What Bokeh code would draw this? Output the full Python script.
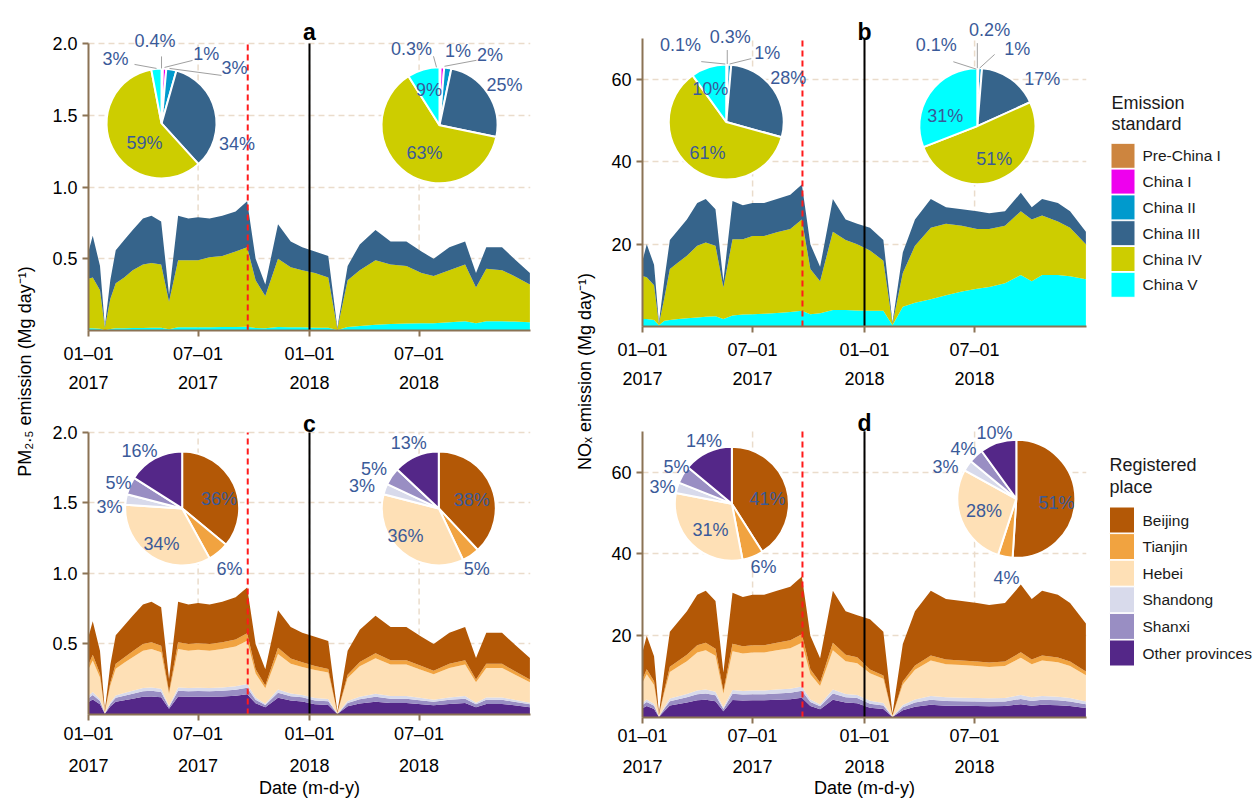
import numpy as np
import pandas as pd
from bokeh.plotting import figure
from bokeh.layouts import row, column
from bokeh.models import ColumnDataSource, Range1d, FixedTicker, LinearAxis
from bokeh.core.properties import value
from bokeh.embed import file_html
from bokeh.resources import INLINE

FONT = "Liberation Sans"
BROWN = "#8B7355"
GRID = "#EADCCB"
PIE_TXT = "#3A5A99"

# ---------------- data ----------------
dates = ["2017-01-01", "2017-01-08", "2017-01-20", "2017-01-28", "2017-02-06", "2017-02-15",
         "2017-03-01", "2017-03-15", "2017-04-01", "2017-04-15", "2017-05-01", "2017-05-14",
         "2017-05-29", "2017-06-15", "2017-07-01", "2017-07-20", "2017-08-10", "2017-09-01",
         "2017-09-20", "2017-10-04", "2017-10-20", "2017-11-10", "2017-12-01", "2017-12-20",
         "2018-01-10", "2018-02-01", "2018-02-16", "2018-03-05", "2018-03-25", "2018-04-20",
         "2018-05-15", "2018-06-10", "2018-07-05", "2018-07-25", "2018-08-20", "2018-09-15",
         "2018-10-03", "2018-10-20", "2018-11-15", "2018-12-05", "2018-12-31"]

# PM2.5 by emission standard (Mg/day)
pm_china_v = [0.015, 0.015, 0.012, 0.002, 0.010, 0.015, 0.015, 0.017, 0.018, 0.020, 0.020, 0.008, 0.022, 0.022,
              0.022, 0.023, 0.024, 0.025, 0.027, 0.018, 0.015, 0.025, 0.022, 0.022, 0.020, 0.020, 0.003, 0.025,
              0.032, 0.040, 0.045, 0.048, 0.050, 0.050, 0.058, 0.065, 0.050, 0.065, 0.065, 0.062, 0.058]
pm_china_iv = [0.345, 0.355, 0.268, 0.018, 0.210, 0.315, 0.355, 0.403, 0.442, 0.450, 0.440, 0.192, 0.468, 0.468,
               0.468, 0.487, 0.496, 0.525, 0.553, 0.332, 0.225, 0.475, 0.418, 0.398, 0.380, 0.350, 0.007, 0.325,
               0.388, 0.450, 0.415, 0.402, 0.350, 0.330, 0.362, 0.395, 0.250, 0.365, 0.355, 0.318, 0.262]
pm_china_iii = [0.19, 0.29, 0.17, 0.01, 0.13, 0.23, 0.26, 0.28, 0.32, 0.33, 0.30, 0.05, 0.31, 0.29,
                0.30, 0.27, 0.28, 0.28, 0.32, 0.15, 0.08, 0.24, 0.18, 0.16, 0.15, 0.15, 0.01, 0.10,
                0.18, 0.21, 0.16, 0.17, 0.15, 0.12, 0.16, 0.16, 0.10, 0.15, 0.16, 0.12, 0.08]

# NOx by emission standard (Mg/day)
nox_china_v = [1.8, 1.8, 1.6, 0.3, 1.4, 1.6, 1.8, 2.0, 2.2, 2.4, 2.5, 1.8, 2.7, 2.9, 3.0, 3.1, 3.3, 3.5, 3.8, 3.0,
               3.2, 4.0, 4.0, 3.9, 3.8, 3.8, 0.3, 4.8, 5.8, 6.6, 7.6, 8.5, 9.2, 9.6, 10.5, 12.5, 11.0, 12.5, 12.5,
               12.2, 11.5]
nox_china_iv = [10.5, 10.2, 8.4, 0.3, 5.6, 12.4, 13.8, 15.2, 17.4, 18.0, 17.1, 7.7, 18.5, 18.3, 19.0, 18.9, 19.6,
                20.2, 22.2, 11.0, 7.8, 19.0, 17.0, 16.1, 14.7, 12.2, 0.3, 8.2, 13.8, 17.4, 17.4, 16.0, 14.5, 14.1,
                14.0, 15.5, 15.0, 14.5, 13.0, 11.8, 8.5]
nox_china_iii = [3.7, 8.0, 5.0, 0.4, 4.5, 7.0, 7.9, 8.8, 10.4, 10.6, 8.9, 1.5, 9.3, 8.3, 8.0, 8.0, 8.1, 8.3, 8.5,
                 6.0, 3.5, 8.0, 5.0, 5.0, 5.5, 5.0, 0.4, 5.0, 6.4, 7.0, 4.0, 4.0, 4.3, 3.8, 3.5, 4.5, 3.0, 4.0,
                 4.5, 4.0, 3.0]

# PM2.5 by registered place (Mg/day)
pm_other = [.088, .106, .072, .005, .056, .090, .101, .112, .125, .128, .122, .040, .128, .125, .126, .125, .128,
            .133, .144, .080, .051, .118, .099, .093, .072, .068, .003, .059, .078, .091, .081, .081, .072, .065,
            .075, .081, .052, .075, .075, .065, .052]
pm_shanxi = [.028, .033, .023, .002, .018, .028, .032, .035, .039, .040, .038, .013, .040, .039, .040, .039, .040,
             .042, .045, .025, .016, .037, .031, .029, .028, .026, .001, .023, .030, .035, .031, .031, .028, .025,
             .029, .031, .020, .029, .029, .025, .020]
pm_shandong = [.017, .020, .014, .001, .011, .017, .019, .021, .023, .024, .023, .008, .024, .023, .024, .023,
               .024, .025, .027, .015, .010, .022, .019, .017, .017, .016, .001, .014, .018, .021, .019, .019,
               .017, .015, .017, .019, .012, .017, .017, .015, .012]
pm_hebei = [.187, .224, .153, .010, .119, .190, .214, .238, .265, .272, .258, .085, .272, .265, .269, .265, .272,
            .282, .306, .170, .109, .252, .211, .197, .198, .187, .007, .162, .216, .252, .223, .223, .198, .180,
            .209, .223, .144, .209, .209, .180, .144]
pm_tianjin = [.033, .040, .027, .002, .021, .034, .038, .042, .047, .048, .046, .015, .048, .047, .047, .047, .048,
              .050, .054, .030, .019, .044, .037, .035, .028, .026, .001, .023, .030, .035, .031, .031, .028, .025,
              .029, .031, .020, .029, .029, .025, .020]
pm_beijing = [.198, .238, .162, .011, .126, .202, .227, .252, .281, .288, .274, .090, .288, .281, .284, .281, .288,
              .299, .324, .180, .115, .266, .223, .209, .209, .198, .008, .171, .228, .266, .236, .236, .209, .190,
              .220, .236, .152, .220, .220, .190, .152]

# NOx by registered place (Mg/day)
nox_other = [2.24, 2.8, 2.1, .14, 1.61, 2.94, 3.29, 3.64, 4.2, 4.34, 3.99, 1.54, 4.27, 4.13, 4.2, 4.2, 4.34, 4.48,
             4.83, 2.8, 2.03, 4.34, 3.64, 3.5, 2.4, 2.1, .1, 1.8, 2.6, 3.1, 2.9, 2.85, 2.8, 2.75, 2.8, 3.25, 2.9,
             3.1, 3.0, 2.8, 2.3]
nox_shanxi = [.8, 1.0, .75, .05, .58, 1.05, 1.18, 1.3, 1.5, 1.55, 1.43, .55, 1.53, 1.48, 1.5, 1.5, 1.55, 1.6, 1.73,
              1.0, .73, 1.55, 1.3, 1.25, .96, .84, .04, .72, 1.04, 1.24, 1.16, 1.14, 1.12, 1.1, 1.12, 1.3, 1.16,
              1.24, 1.2, 1.12, .92]
nox_shandong = [.48, .6, .45, .03, .35, .63, .71, .78, .9, .93, .86, .33, .92, .89, .9, .9, .93, .96, 1.04, .6,
                .44, .93, .78, .75, .72, .63, .03, .54, .78, .93, .87, .86, .84, .83, .84, .98, .87, .93, .9, .84,
                .69]
nox_hebei = [4.96, 6.2, 4.65, .31, 3.57, 6.51, 7.29, 8.06, 9.3, 9.61, 8.84, 3.41, 9.46, 9.15, 9.3, 9.3, 9.61, 9.92,
             10.7, 6.2, 4.5, 9.61, 8.06, 7.75, 6.72, 5.88, .28, 5.04, 7.28, 8.68, 8.12, 7.98, 7.84, 7.7, 7.84, 9.1,
             8.12, 8.68, 8.4, 7.84, 6.44]
nox_tianjin = [.96, 1.2, .9, .06, .69, 1.26, 1.41, 1.56, 1.8, 1.86, 1.71, .66, 1.83, 1.77, 1.8, 1.8, 1.86, 1.92,
               2.07, 1.2, .87, 1.86, 1.56, 1.5, .96, .84, .04, .72, 1.04, 1.24, 1.16, 1.14, 1.12, 1.1, 1.12, 1.3,
               1.16, 1.24, 1.2, 1.12, .92]
nox_beijing = [6.56, 8.2, 6.15, .41, 4.7, 8.61, 9.62, 10.66, 12.3, 12.71, 11.67, 4.51, 12.49, 12.08, 12.3, 12.3,
               12.71, 13.12, 14.13, 8.2, 5.93, 12.71, 10.66, 10.25, 12.24, 10.71, .51, 9.18, 13.26, 15.81, 14.79,
               14.53, 14.28, 14.02, 14.28, 16.57, 14.79, 15.81, 15.3, 14.28, 11.73]

# pie shares (%)  order: Pre-China I, China I, China II, China III, China IV, China V
pie_a1 = [0.4, 1, 3, 34, 59, 3]
pie_a2 = [0.3, 1, 2, 25, 63, 9]
pie_b1 = [0.1, 0.3, 1, 28, 61, 10]
pie_b2 = [0.1, 0.2, 1, 17, 51, 31]
# order: Beijing, Tianjin, Hebei, Shandong, Shanxi, Other provinces
pie_c1 = [36, 6, 34, 3, 5, 16]
pie_c2 = [38, 5, 36, 3, 5, 13]
pie_d1 = [41, 6, 31, 3, 5, 14]
pie_d2 = [51, 4, 28, 3, 4, 10]

standards = ["Pre-China I", "China I", "China II", "China III", "China IV", "China V"]
std_colors = ["#CD853F", "#EE00EE", "#009ACD", "#36648B", "#CDCD00", "#00FFFF"]
places = ["Beijing", "Tianjin", "Hebei", "Shandong", "Shanxi", "Other provinces"]
place_colors = ["#B35806", "#F1A340", "#FEE0B6", "#D8DAEB", "#998EC3", "#542788"]

tick_dates = ["2017-01-01", "2017-07-01", "2018-01-01", "2018-07-01"]
tick_md = ["01\u201301", "07\u201301", "01\u201301", "07\u201301"]
tick_year = ["2017", "2017", "2018", "2018"]
event_dates = ["2017-09-21", "2018-01-01"]

START = pd.Timestamp("2017-01-01")
END = pd.Timestamp("2019-01-01")
NDAYS = (END - START).days
day = [int(v) for v in (pd.to_datetime(dates) - START).days]
tick_days = [int(v) for v in (pd.to_datetime(tick_dates) - START).days]
ev_days = [int(v) for v in (pd.to_datetime(event_dates) - START).days]

src_std_pm = ColumnDataSource(dict(day=day, v=pm_china_v, iv=pm_china_iv, iii=pm_china_iii))
src_std_nox = ColumnDataSource(dict(day=day, v=nox_china_v, iv=nox_china_iv, iii=nox_china_iii))
src_pl_pm = ColumnDataSource(dict(day=day, o=pm_other, sx=pm_shanxi, sd=pm_shandong, hb=pm_hebei,
                                  tj=pm_tianjin, bj=pm_beijing))
src_pl_nox = ColumnDataSource(dict(day=day, o=nox_other, sx=nox_shanxi, sd=nox_shandong, hb=nox_hebei,
                                   tj=nox_tianjin, bj=nox_beijing))


class Panel:
    pass


def make_panel(letter, ymax, yticks, ylabs, bl, fw, br, bt, fh, bb, s1, s2, s3, letter_px, date_label):
    """bt: pixels above the ymax line (frame extends up to the figure top), fh: pixels for 0..ymax."""
    ky = ymax / fh
    ytop = ymax + bt * ky
    p = figure(width=bl + fw + br, height=bt + fh + bb, x_range=Range1d(0, NDAYS), y_range=Range1d(0, ytop),
               output_backend="svg", toolbar_location=None,
               min_border_left=bl, min_border_right=br, min_border_top=0, min_border_bottom=bb)
    p.outline_line_color = None
    xt = FixedTicker(ticks=tick_days)
    yt = FixedTicker(ticks=yticks)
    ax = p.xaxis[0]
    ax.ticker = xt
    ax.major_label_overrides = {d: t for d, t in zip(tick_days, tick_md)}
    ay = p.yaxis[0]
    ay.ticker = yt
    ay.bounds = (0, ymax)
    ay.major_label_overrides = {v: t for v, t in zip(yticks, ylabs)}
    for a in (ax, ay):
        a.axis_line_color = BROWN
        a.axis_line_width = 2
        a.major_tick_line_color = BROWN
        a.major_tick_line_width = 2
        a.major_tick_out = 6
        a.major_tick_in = 0
        a.minor_tick_line_color = None
        a.major_label_text_font = FONT
        a.major_label_text_font_size = "18px"
        a.major_label_text_color = "black"
    ax.major_label_standoff = s1
    ay.major_label_standoff = 5
    ax2 = LinearAxis(ticker=FixedTicker(ticks=tick_days),
                     major_label_overrides={d: t for d, t in zip(tick_days, tick_year)},
                     axis_line_color=None, major_tick_line_color=None, minor_tick_line_color=None,
                     major_tick_out=0, major_tick_in=0, major_label_standoff=s2,
                     major_label_text_font=FONT, major_label_text_font_size="18px",
                     major_label_text_color="black")
    if date_label:
        ax2.axis_label = "Date (m-d-y)"
        ax2.axis_label_text_font = FONT
        ax2.axis_label_text_font_size = "18px"
        ax2.axis_label_text_font_style = "normal"
        ax2.axis_label_text_color = "black"
        ax2.axis_label_standoff = s3
    p.add_layout(ax2, "below")
    p.xgrid.visible = False
    p.ygrid[0].ticker = yt
    p.ygrid[0].grid_line_color = GRID
    p.ygrid[0].grid_line_dash = "6 4"
    p.ygrid[0].grid_line_width = 1.5
    # vertical grid lines limited to the 0..ymax span
    vt = [t for t in tick_days if t > 0]
    p.segment(x0=vt, y0=[0] * len(vt), x1=vt, y1=[ymax] * len(vt), line_color=GRID,
              line_dash="6 4", line_width=1.5)
    # panel letter
    p.text(x=[ev_days[1]], y=[ymax + letter_px * ky], text=[letter], text_align="center",
           text_baseline="alphabetic", text_font=value(FONT), text_font_size="23px",
           text_font_style="bold", text_color="black")
    P = Panel()
    P.fig, P.ymax, P.fw, P.fh = p, ymax, fw, fh
    return P


def add_events(P):
    p = P.fig
    p.segment(x0=[ev_days[0]], y0=[0], x1=[ev_days[0]], y1=[P.ymax], line_color="#FF1A1A",
              line_dash="6 4", line_width=2)
    p.segment(x0=[ev_days[1]], y0=[0], x1=[ev_days[1]], y1=[P.ymax], line_color="black", line_width=2)


def add_pie(P, cx, cy, r, shares, colors, labels, offsets, leaders):
    p = P.fig
    s = np.asarray(shares, dtype=float)
    frac = s / s.sum()
    cum = np.concatenate([[0.0], np.cumsum(frac)])
    start = (np.pi / 2 - 2 * np.pi * cum[:-1]).tolist()
    end = (np.pi / 2 - 2 * np.pi * cum[1:]).tolist()
    n = len(s)
    src = ColumnDataSource(dict(x=[cx] * n, y=[cy] * n, start=start, end=end, color=colors))
    p.wedge(x="x", y="y", radius=r, radius_units="screen", start_angle="start", end_angle="end",
            direction="clock", fill_color="color", line_color="white", line_width=2, source=src)
    kx = NDAYS / P.fw
    ky = P.ymax / P.fh
    if leaders:
        p.segment(x0=[cx + a[0] * kx for a, b in leaders], y0=[cy - a[1] * ky for a, b in leaders],
                  x1=[cx + b[0] * kx for a, b in leaders], y1=[cy - b[1] * ky for a, b in leaders],
                  line_color="#A0A0A0", line_width=1)
    p.text(x=[cx + o[0] * kx for o in offsets], y=[cy - o[1] * ky for o in offsets], text=labels,
           text_align="center", text_baseline="middle", text_font=value(FONT),
           text_font_size="18px", text_color=PIE_TXT)


def pct(v):
    return [f"{x:g}%" for x in v]


# ---------------- panel a ----------------
A = make_panel("a", 2.0, [0.5, 1.0, 1.5, 2.0], ["0.5", "1.0", "1.5", "2.0"],
               47, 442, 31, 43, 287, 69, 7, 9, 0, 11.5, False)
A.fig.varea_stack(stackers=["v", "iv", "iii"], x="day", color=[std_colors[5], std_colors[4], std_colors[3]],
                  source=src_std_pm)
add_events(A)
add_pie(A, 120.6, 1.443, 55, pie_a1, std_colors, pct(pie_a1),
        [(-6.5, -82), (44.7, -69), (73, -55.5), (75.5, 21), (-17, 19.5), (-46, -64)],
        [((0, -55), (0, -67)), ((3, -56), (31, -63)), ((8, -55), (60, -48)), ((-5, -55), (-27, -59))])
add_pie(A, 579.7, 1.43, 58, pie_a2, std_colors, pct(pie_a2),
        [(-28, -76), (18.5, -74), (50.5, -70.7), (65, -40.7), (-15, 27.3), (-10.5, -35.7)],
        [((-3, -58), (-6, -69)), ((5, -59), (37, -65))])

# ---------------- panel b ----------------
B = make_panel("b", 70, [20, 40, 60], ["20", "40", "60"],
               40, 444, 8, 38, 288, 73, 7, 9, 0, 7, False)
B.fig.varea_stack(stackers=["v", "iv", "iii"], x="day", color=[std_colors[5], std_colors[4], std_colors[3]],
                  source=src_std_nox)
add_events(B)
add_pie(B, 137.7, 49.7, 57.5, pie_b1, std_colors, pct(pie_b1),
        [(-45.7, -77), (4, -85), (41, -68.7), (62, -43.7), (-18.7, 30.7), (-16, -33)],
        [((-1, -58), (-25, -60.4)), ((1, -58), (1, -72)), ((3.3, -58), (25, -63.4))])
add_pie(B, 550.5, 48.7, 58, pie_b2, std_colors, pct(pie_b2),
        [(-41, -81), (12.3, -96), (40, -76.7), (65, -46.7), (17, 33), (-32, -10.3)],
        [((-1, -57), (-24, -64.4)), ((0, -58), (0, -83)), ((2.3, -58), (17.3, -71.7))])

# ---------------- panel c ----------------
C = make_panel("c", 2.0, [0.5, 1.0, 1.5, 2.0], ["0.5", "1.0", "1.5", "2.0"],
               47, 442, 31, 33, 283, 85, 3, 12, 3, 8.5, True)
C.fig.varea_stack(stackers=["o", "sx", "sd", "hb", "tj", "bj"], x="day", color=place_colors[::-1],
                  source=src_pl_pm)
add_events(C)
add_pie(C, 154.7, 1.461, 57, pie_c1, place_colors, pct(pie_c1),
        [(36.8, -9.3), (47.3, 61), (-20.7, 35.7), (-72.7, -1), (-63.7, -26), (-42.7, -57.6)], [])
add_pie(C, 578.5, 1.461, 57, pie_c2, place_colors, pct(pie_c2),
        [(33, -8.3), (38, 61), (-33.3, 27.3), (-76.7, -22.7), (-64.8, -40), (-30, -65.3)], [])

# ---------------- panel d ----------------
D = make_panel("d", 70, [20, 40, 60], ["20", "40", "60"],
               40, 444, 8, 32, 288, 81, 2, 11, 2, 8.5, True)
D.fig.varea_stack(stackers=["o", "sx", "sd", "hb", "tj", "bj"], x="day", color=place_colors[::-1],
                  source=src_pl_nox)
add_events(D)
add_pie(D, 146.9, 52.3, 57, pie_d1, place_colors, pct(pie_d1),
        [(35.7, -5), (31.7, 63.3), (-21.3, 26), (-69.3, -16.7), (-55.3, -36.7), (-27.8, -63)], [])
add_pie(D, 614.6, 53.5, 59, pie_d2, place_colors, pct(pie_d2),
        [(40.3, 4), (-9.7, 79.5), (-32.2, 12.7), (-70.7, -31.7), (-52.7, -50), (-21.7, -66)], [])


# ---------------- y-axis titles ----------------
TOTAL_H = 800


def label_fig(w, x, text):
    f = figure(width=w, height=TOTAL_H, x_range=Range1d(0, w), y_range=Range1d(0, TOTAL_H),
               output_backend="svg", toolbar_location=None, min_border=0,
               x_axis_location=None, y_axis_location=None)
    f.grid.visible = False
    f.outline_line_color = None
    f.text(x=[x], y=[TOTAL_H - 371], text=[text], angle=np.pi / 2, text_align="center",
           text_baseline="middle", text_font=value(FONT), text_font_size="18px", text_color="black")
    return f


lab1 = label_fig(41, 24.5, "PM\u2082.\u2085 emission (Mg day\u207b\u00b9)")
lab2 = label_fig(41, 23, "NO\u2093 emission (Mg day\u207b\u00b9)")

# ---------------- legends (coordinates = page pixels) ----------------
leg = figure(width=159, height=TOTAL_H, x_range=Range1d(1095, 1254), y_range=Range1d(TOTAL_H + 1, 1),
             output_backend="svg", toolbar_location=None, min_border=0,
             x_axis_location=None, y_axis_location=None)
leg.grid.visible = False
leg.outline_line_color = None

y1 = [156.3 + 25.8 * i for i in range(6)]
leg.text(x=[1112, 1112], y=[103, 124], text=["Emission", "standard"], text_baseline="middle",
         text_font=value(FONT), text_font_size="18px", text_color="#1A1A1A")
leg.rect(x=[1123.5] * 6, y=y1, width=24, height=25, fill_color=std_colors, line_color="white", line_width=1)
leg.text(x=[1143] * 6, y=y1, text=standards, text_baseline="middle", text_font=value(FONT),
         text_font_size="15.5px", text_color="#1A1A1A")

y2 = [520.5 + 26.6 * i for i in range(6)]
leg.text(x=[1110, 1110], y=[465, 487], text=["Registered", "place"], text_baseline="middle",
         text_font=value(FONT), text_font_size="18px", text_color="#1A1A1A")
leg.rect(x=[1122.5] * 6, y=y2, width=25, height=26, fill_color=place_colors, line_color="white", line_width=1)
leg.text(x=[1143] * 6, y=y2, text=places, text_baseline="middle", text_font=value(FONT),
         text_font_size="15.5px", text_color="#1A1A1A")

layout = row(lab1, column(A.fig, C.fig), lab2, column(B.fig, D.fig), leg)
open("out.html", "w").write(file_html(layout, INLINE, title="Emissions"))
